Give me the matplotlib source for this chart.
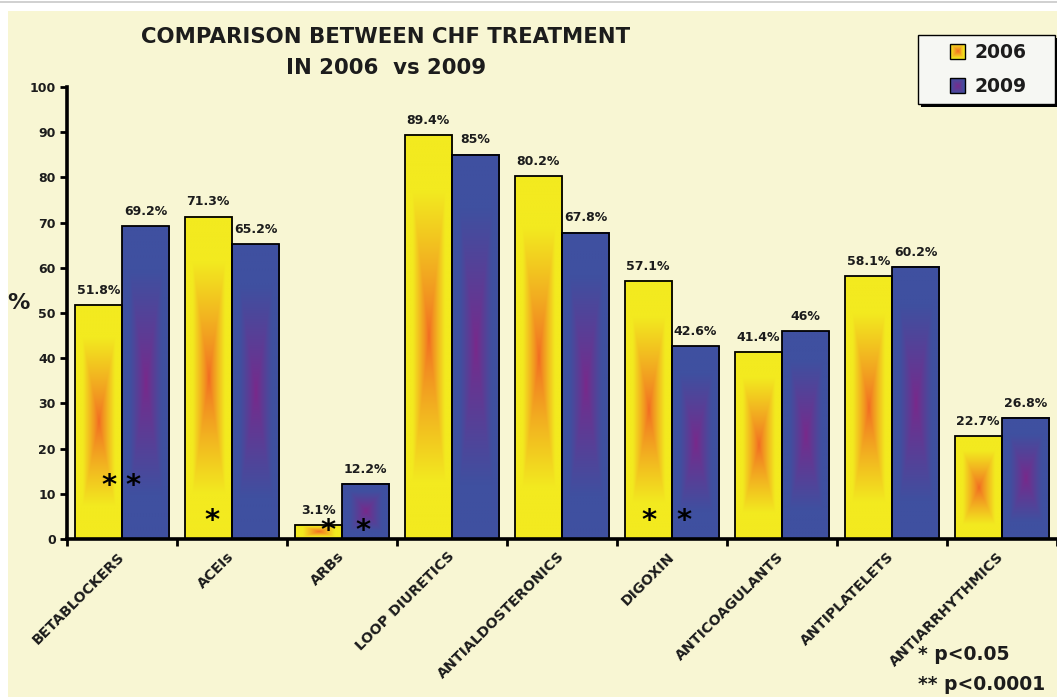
"""CHF treatment comparison, 2006 vs 2009."""
import matplotlib
import numpy as np

matplotlib.use("Agg")
from matplotlib import pyplot as plt
from matplotlib.legend_handler import HandlerBase
from matplotlib.patches import Rectangle

categories = [
    "BETABLOCKERS", "ACEIs", "ARBs", "LOOP DIURETICS", "ANTIALDOSTERONICS",
    "DIGOXIN", "ANTICOAGULANTS", "ANTIPLATELETS", "ANTIARRHYTHMICS",
]
values_2006 = [51.8, 71.3, 3.1, 89.4, 80.2, 57.1, 41.4, 58.1, 22.7]
values_2009 = [69.2, 65.2, 12.2, 85, 67.8, 42.6, 46, 60.2, 26.8]
years = ["2006", "2009"]

# significance asterisks: (group index, x offset inside group, height)
star_group = [0, 0, 1, 2, 2, 5, 5]
star_offset = [0.38, 0.60, 0.32, 0.37, 0.69, 0.29, 0.61]
star_height = [11.8, 11.8, 4.0, 1.8, 1.8, 4.0, 4.0]

YELLOW = np.array([243, 234, 31]) / 255
ORANGE = np.array([242, 106, 34]) / 255
BLUE = np.array([63, 80, 160]) / 255
PURPLE = np.array([122, 40, 138]) / 255
BG = "#f8f6d3"
TXT = "#1c1c1c"
FONT = "DejaVu Sans"


def gradient(center, edge, rows=240, cols=80):
    u = np.abs(np.linspace(-1, 1, cols))[None, :] / 0.68
    v = np.abs(np.linspace(-1, 1, rows))[:, None] / 0.72
    t = np.clip(np.maximum(u, v), 0, 1)[..., None] ** 0.85
    return center * (1 - t) + edge * t


class SquareGradient(HandlerBase):
    def __init__(self, center, edge):
        super().__init__()
        self.center = center
        self.edge = edge

    def create_artists(self, legend, orig_handle, xdescent, ydescent, width, height, fontsize, trans):
        size = 0.8 * fontsize
        x0 = width - size - xdescent
        y0 = (height - size) / 2 - ydescent
        artists = []
        steps = 8
        for k in range(steps):
            frac = 1 - k / steps
            col = self.edge * frac + self.center * (1 - frac)
            s = size * (1 - k / steps)
            artists.append(Rectangle((x0 + (size - s) / 2, y0 + (size - s) / 2), s, s,
                                     facecolor=col, edgecolor="none", transform=trans))
        artists.append(Rectangle((x0, y0), size, size, facecolor="none",
                                 edgecolor="black", linewidth=1.0, transform=trans))
        return artists


W, H = 1057, 697
fig = plt.figure(figsize=(W / 100, H / 100), dpi=100, facecolor="white")
fig.patches.append(Rectangle((8 / W, 0), 1, 1 - 11 / H, transform=fig.transFigure,
                             facecolor=BG, edgecolor="none", zorder=-10))
fig.lines.append(plt.Line2D([0, 1], [1 - 1.5 / H, 1 - 1.5 / H], transform=fig.transFigure,
                            color="#c8c8c8", linewidth=1.2))

ax = fig.add_axes([67 / W, 1 - 539 / H, 990 / W, 452 / H])
ax.set_facecolor("none")

x = np.arange(len(categories)) + 0.5
width = 0.43
offsets = [-0.216, 0.214]
fills = [(ORANGE, YELLOW), (PURPLE, BLUE)]

for values, off, (c_in, c_out) in zip([values_2006, values_2009], offsets, fills):
    bars = ax.bar(x + off, values, width, facecolor="none", edgecolor="black",
                  linewidth=1.3, zorder=3)
    img = gradient(c_in, c_out)
    for bar, val in zip(bars, values):
        x0 = bar.get_x()
        ax.imshow(img, extent=(x0, x0 + bar.get_width(), 0, val), aspect="auto",
                  origin="lower", interpolation="bilinear", zorder=2)
        ax.annotate(f"{val:g}%", (bar.get_x() + bar.get_width() / 2, val),
                    xytext=(0, 6), textcoords="offset points", ha="center", va="bottom",
                    fontsize=9, fontweight="bold", color=TXT, family=FONT,
                    annotation_clip=False)

for g, off, h in zip(star_group, star_offset, star_height):
    ax.text(g + off, h, "*", ha="center", va="center", fontsize=21,
            fontweight="bold", color="black", family=FONT, zorder=5)

ax.set_xlim(0, len(categories))
ax.set_ylim(0, 100)
ax.set_yticks(np.arange(0, 101, 10))
ax.set_xticks(np.arange(0, len(categories) + 1))
ax.set_xticklabels([])
ax.set_xticks(x, minor=True)
ax.set_xticklabels(categories, minor=True, rotation=45, ha="right", va="center",
                   rotation_mode="anchor", fontsize=10.3, fontweight="bold",
                   color=TXT, family=FONT)
ax.tick_params(axis="x", which="minor", length=0, pad=11)
ax.tick_params(axis="x", which="major", direction="out", length=5, width=2)
ax.tick_params(axis="y", direction="out", length=5, width=2, pad=3,
               labelsize=9, labelcolor=TXT)
for lab in ax.get_yticklabels():
    lab.set_fontweight("bold")
    lab.set_family(FONT)

for side in ["top", "right"]:
    ax.spines[side].set_visible(False)
for side in ["left", "bottom"]:
    ax.spines[side].set_linewidth(2.6)
ax.spines["left"].set_zorder(6)
ax.spines["bottom"].set_zorder(6)

ax.set_ylabel("%", rotation=0, fontsize=16, fontweight="bold", color=TXT, family=FONT)
ax.yaxis.set_label_coords(-0.049, 0.5)

fig.text(386 / W, 1 - 37 / H, "COMPARISON BETWEEN CHF TREATMENT", ha="center", va="center",
         fontsize=15.3, fontweight="bold", color=TXT, family=FONT)
fig.text(386 / W, 1 - 68 / H, "IN 2006  vs 2009", ha="center", va="center",
         fontsize=15.3, fontweight="bold", color=TXT, family=FONT)

# legend frame with offset shadow
bx0, by0, bx1, by1 = 918, 35, 1055, 104
fig.patches.append(Rectangle(((bx0 + 3) / W, 1 - (by1 + 3) / H), (bx1 - bx0) / W,
                             (by1 - by0) / H, transform=fig.transFigure,
                             facecolor="black", edgecolor="none", zorder=8))
fig.patches.append(Rectangle((bx0 / W, 1 - by1 / H), (bx1 - bx0) / W, (by1 - by0) / H,
                             transform=fig.transFigure, facecolor="#f6f7f3",
                             edgecolor="black", linewidth=1.0, zorder=9))
h1, h2 = Rectangle((0, 0), 1, 1), Rectangle((0, 0), 1, 1)
leg = fig.legend([h1, h2], years, loc="center",
                 bbox_to_anchor=((bx0 + bx1) / 2 / W + 1 / W, 1 - (by0 + by1) / 2 / H),
                 frameon=False, handlelength=0.9, handleheight=0.8, handletextpad=0.5,
                 labelspacing=0.85, borderpad=0,
                 prop={"family": FONT, "weight": "bold", "size": 13.5},
                 handler_map={h1: SquareGradient(ORANGE, YELLOW),
                              h2: SquareGradient(PURPLE, BLUE)})
leg.set_zorder(10)
for t in leg.get_texts():
    t.set_color(TXT)

fig.text(918 / W, 1 - 655 / H, "* p<0.05", ha="left", va="center", fontsize=13.5,
         fontweight="bold", color=TXT, family=FONT)
fig.text(918 / W, 1 - 685 / H, "** p<0.0001", ha="left", va="center", fontsize=13.5,
         fontweight="bold", color=TXT, family=FONT)

fig.savefig("out.png", dpi=100, facecolor=fig.get_facecolor())
plt.close(fig)
